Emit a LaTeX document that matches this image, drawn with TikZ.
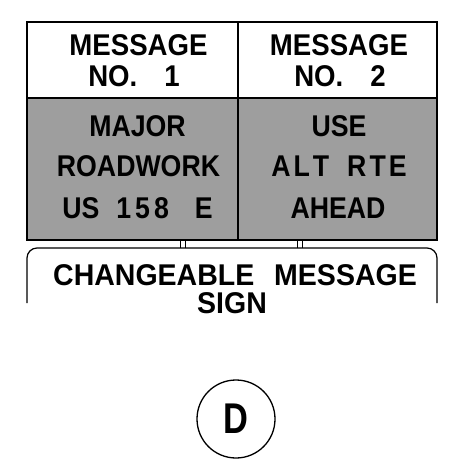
\documentclass[tikz,border=0pt]{standalone}
\usepackage{fontspec}
\newfontfamily\hdfont[FakeStretch=0.92]{Liberation Sans}
\newfontfamily\gyfont[FakeStretch=0.89]{Liberation Sans}
\newfontfamily\bsfont[FakeStretch=0.95]{Liberation Sans}
\newfontfamily\dfont[FakeStretch=0.8]{Liberation Sans}
\begin{document}
\begin{tikzpicture}[x=1pt,y=-1pt,
  hdtxt/.style={anchor=base,font=\hdfont\bfseries\fontsize{30}{30}\selectfont,inner sep=0pt},
  gytxt/.style={anchor=base,font=\gyfont\bfseries\fontsize{30}{30}\selectfont,inner sep=0pt},
  bstxt/.style={anchor=base,font=\bsfont\bfseries\fontsize{30}{30}\selectfont,inner sep=0pt},
  cellbox/.style={draw=black,line width=1.3pt,inner sep=0pt},
  graycell/.style={cellbox,fill=black!38},
  post/.style={line width=0.9pt}]
\useasboundingbox (0,0) rectangle (459,470);
% cells
\node[cellbox,minimum width=211pt,minimum height=76pt] (h1) at (132.5,60) {};
\node[cellbox,minimum width=199pt,minimum height=76pt] (h2) at (337.5,60) {};
\node[graycell,minimum width=211pt,minimum height=142pt] (g1) at (132.5,169) {};
\node[graycell,minimum width=199pt,minimum height=142pt] (g2) at (337.5,169) {};
\draw[line width=2.2pt] (27,22) rectangle (437,240);
% header texts
\node[hdtxt] (m1) at (138.5,56) {MESSAGE};
\node[hdtxt] (n1) at (134,87) {NO.\hspace{27pt}1};
\node[hdtxt] (m2) at (339,56) {MESSAGE};
\node[hdtxt] (n2) at (340,87) {NO.\hspace{27pt}2};
% gray texts
\node[gytxt] (a1) at (137.5,137) {MAJOR};
\node[gytxt] (a2) at (138.5,177) {ROADWORK};
\node[gytxt] (a3) at (137.5,218) {US\hspace{17pt}1\kern4pt5\kern4pt8\hspace{26pt}E};
\node[gytxt] (b1) at (339,137) {USE};
\node[gytxt] (b2) at (339,177) {A\kern3pt L\kern3pt T\hspace{18pt}R\kern3pt T\kern3pt E};
\node[gytxt] (b3) at (338,218) {AHEAD};
% posts
\draw[post] (180,241) -- (180,248) (185,241) -- (185,248);
\draw[post] (297,241) -- (297,248) (302,241) -- (302,248);
% base box
\draw[line width=1.2pt,rounded corners=10pt] (27,303) -- (27,248) -- (437,248) -- (437,303);
\node[bstxt] (c1) at (235,285) {CHANGEABLE\hspace{20pt}MESSAGE};
\node[bstxt] (c2) at (232,313) {SIGN};
% circle D
\node[draw,circle,line width=1.3pt,minimum size=78pt,inner sep=0pt,font=\dfont\bfseries\fontsize{43}{43}\selectfont] (d) at (236,419) {D};
\end{tikzpicture}
\end{document}
